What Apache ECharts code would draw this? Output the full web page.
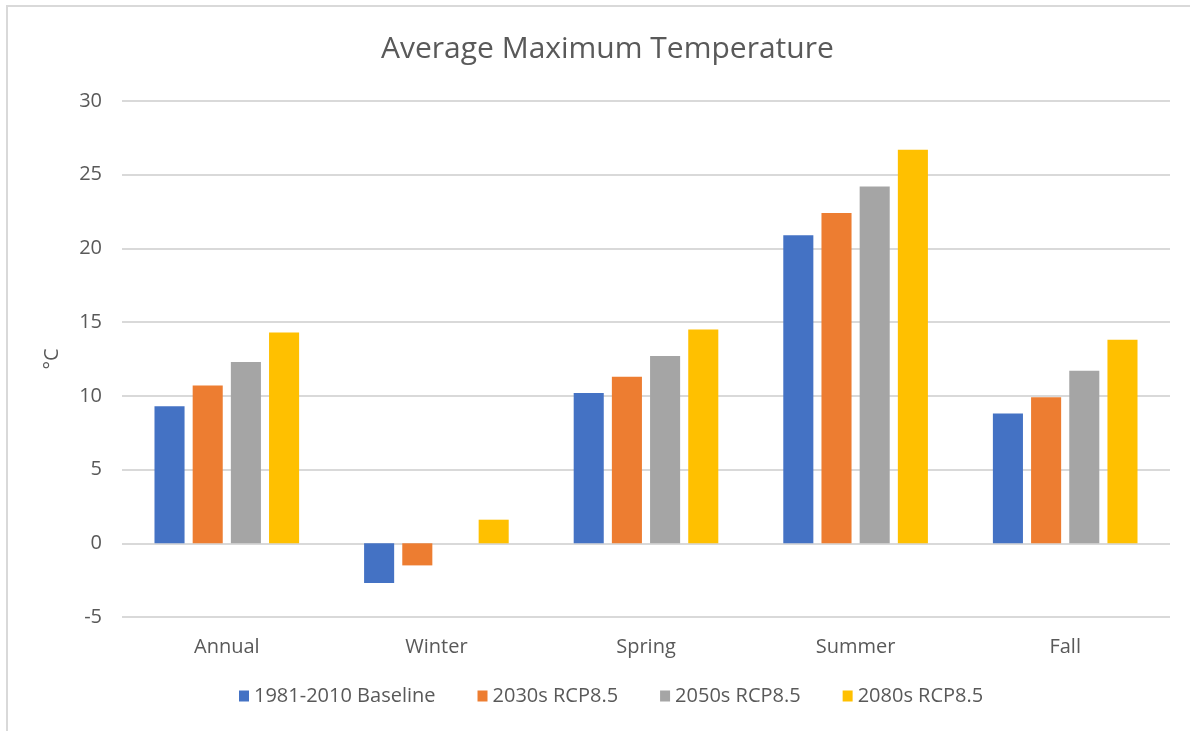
<!DOCTYPE html>
<html>
<head>
<meta charset="utf-8">
<script src="https://cdn.jsdelivr.net/npm/echarts@6/dist/echarts.min.js"></script>
<style>
html,body{margin:0;padding:0;background:#fff;overflow:hidden;}
#frame{position:absolute;left:6px;top:5px;width:1300px;height:900px;border-left:2px solid #d9d9d9;border-top:2px solid #d9d9d9;}
#chart{position:absolute;left:0;top:0;width:1190px;height:731px;}
</style>
</head>
<body>
<div id="frame"></div>
<div id="chart"></div>
<script>
const categories = ['Annual', 'Winter', 'Spring', 'Summer', 'Fall'];
const seriesNames = ['1981-2010 Baseline', '2030s RCP8.5', '2050s RCP8.5', '2080s RCP8.5'];
const baseline = [9.3, -2.7, 10.2, 20.9, 8.8];
const rcp2030s = [10.7, -1.5, 11.3, 22.4, 9.9];
const rcp2050s = [12.3, 0.0, 12.7, 24.2, 11.7];
const rcp2080s = [14.3, 1.6, 14.5, 26.7, 13.8];
const colors = ['#4472C4', '#ED7D31', '#A5A5A5', '#FFC000'];
const values = [baseline, rcp2030s, rcp2050s, rcp2080s];

const font = '"Open Sans", "Liberation Sans", sans-serif';
const chart = echarts.init(document.getElementById('chart'));
chart.setOption({
  animation: false,
  textStyle: { fontFamily: font },
  title: {
    text: 'Average Maximum Temperature',
    left: 376, top: 29,
    textStyle: { fontFamily: font, fontSize: 30, fontWeight: 'normal', color: '#595959' }
  },
  legend: {
    bottom: 20, left: 234,
    itemWidth: 10, itemHeight: 11, itemGap: 42,
    icon: 'rect',
    textStyle: { fontFamily: font, fontSize: 20, color: '#595959' },
    data: seriesNames
  },
  grid: { left: 122, right: 20, top: 101, bottom: 114, containLabel: false },
  xAxis: {
    type: 'category', data: categories,
    axisLine: { show: false },
    axisTick: { show: false },
    axisLabel: { fontFamily: font, fontSize: 20, color: '#595959', margin: 20 }
  },
  yAxis: {
    type: 'value', min: -5, max: 30, interval: 5,
    name: '°C', nameLocation: 'middle', nameGap: 60, nameRotate: 90,
    nameTextStyle: { fontFamily: font, fontSize: 20, color: '#595959' },
    axisLabel: { fontFamily: font, fontSize: 20, color: '#595959', margin: 20 },
    splitLine: { lineStyle: { color: '#d9d9d9', width: 2 } },
    axisLine: { show: false }, axisTick: { show: false }
  },
  series: values.map((v, i) => ({
    name: seriesNames[i], type: 'bar', data: v,
    barGap: '27%', barCategoryGap: '31%',
    itemStyle: { color: colors[i] }
  }))
});
</script>
</body>
</html>
